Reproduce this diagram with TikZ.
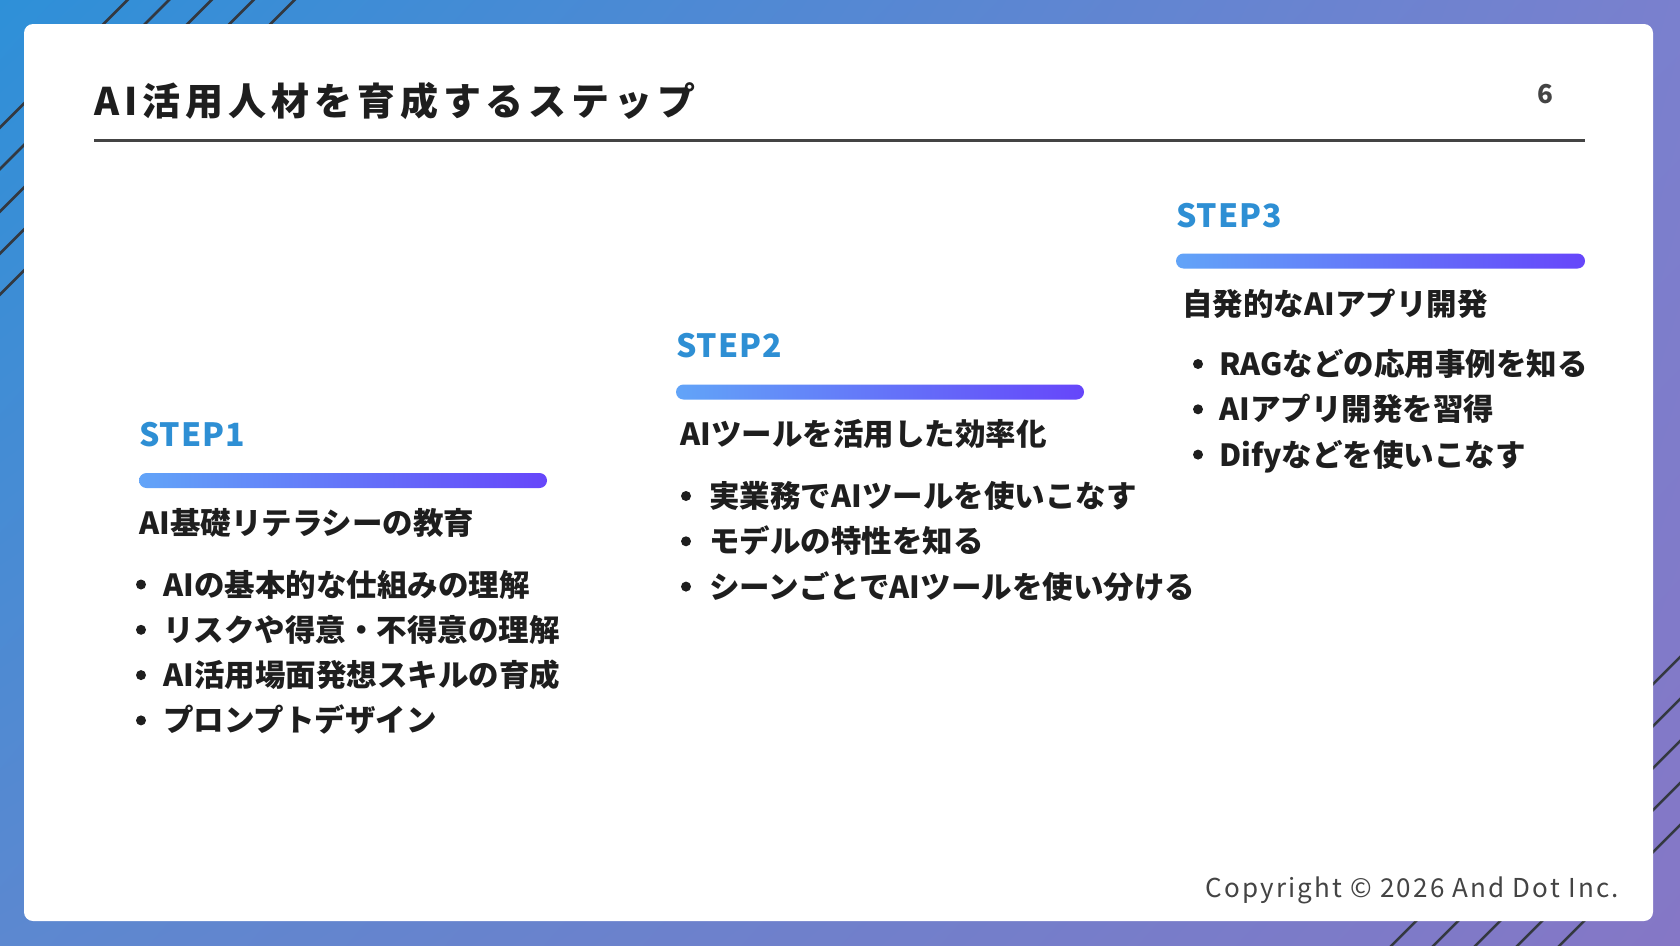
\documentclass[tikz,border=0pt]{standalone}
\usepackage{fontspec}
\usetikzlibrary{shadings}
\setmainfont{Noto Sans CJK JP}
\newfontfamily\titlefont[LetterSpace=13]{Noto Sans CJK JP}
\newfontfamily\copyfont[LetterSpace=8.5]{Noto Sans CJK JP}
\newfontfamily\stepfont[LetterSpace=3]{Noto Sans CJK JP}
\definecolor{bgUL}{HTML}{2E90D8}
\definecolor{bgUR}{HTML}{7A80CE}
\definecolor{bgLL}{HTML}{5C88D0}
\definecolor{bgLR}{HTML}{8577C6}
\definecolor{stripe}{HTML}{333840}
\definecolor{ink}{HTML}{1E1E1E}
\definecolor{rulegray}{HTML}{444444}
\definecolor{stepblue}{HTML}{2E8FD4}
\definecolor{barL}{HTML}{62A4F8}
\definecolor{barR}{HTML}{6646FA}
\definecolor{copygray}{HTML}{444444}
\begin{document}
\begin{tikzpicture}[x=1pt,y=-1pt,
  stripeline/.style={draw=stripe, line width=2.5pt},
  titletext/.style={inner sep=0, font=\titlefont\bfseries\fontsize{38}{44}\selectfont, text=ink},
  pagetext/.style={inner sep=0, font=\bfseries\fontsize{26}{30}\selectfont, text=rulegray},
  steplabel/.style={anchor=west, inner sep=0, font=\stepfont\bfseries\fontsize{32}{36}\selectfont, text=stepblue},
  headtext/.style={anchor=west, inner sep=0, text height=26.8pt, text depth=3.7pt, font=\bfseries\fontsize{30.5}{36}\selectfont, text=ink},
  itemtext/.style={anchor=west, inner sep=0, text height=26.8pt, text depth=3.7pt, font=\bfseries\fontsize{30.5}{36}\selectfont, text=ink},
  bulletdot/.style={circle, fill=ink, inner sep=0, minimum size=10pt},
  gradbar/.style={left color=barL, right color=barR, rounded corners=7.5pt},
  copytext/.style={inner sep=0, font=\copyfont\fontsize{26}{30}\selectfont, text=copygray}
]
\useasboundingbox (0,0) rectangle (1680,945);
% background
\shade[upper left=bgUL, upper right=bgUR, lower left=bgLL, lower right=bgLR] (0,0) rectangle (1680,945);
% stripes
\begin{scope}
  \clip (0,0) rectangle (1680,945);
  \foreach \c in {127.5,169,211.5,253.5,294.5}
    \draw[stripeline] (\c+10,-10) -- (-10,\c+10);
  \foreach \c in {2337,2379,2421,2463,2505}
    \draw[stripeline] (1690,\c-1690) -- (\c-955,955);
\end{scope}
% card
\fill[white, rounded corners=9pt] (24,24) rectangle (1653,921);
% title
\node[titletext, anchor=base west] (title) at (94,115) {AI活用人材を育成するステップ};
\coordinate (ruleL) at (94,140);
\coordinate (ruleR) at (1585,140);
\draw[rulegray, line width=3pt] (ruleL) -- (ruleR);
\node[pagetext] (pageno) at (1545,94) {6};
% STEP1
\node[steplabel] (s1) at (139,434.5) {STEP1};
\shade[gradbar] (139,473) rectangle (547,488);
\node[headtext] (h1) at (139,522.5) {AI基礎リテラシーの教育};
\node[bulletdot] (b11) at (141,584.5) {};
\node[itemtext] (t11) at (163,584.5) {AIの基本的な仕組みの理解};
\node[bulletdot] (b12) at (141,629.8) {};
\node[itemtext] (t12) at (163,629.8) {リスクや得意・不得意の理解};
\node[bulletdot] (b13) at (141,675.1) {};
\node[itemtext] (t13) at (163,675.1) {AI活用場面発想スキルの育成};
\node[bulletdot] (b14) at (141,720.4) {};
\node[itemtext] (t14) at (163,720.4) {プロンプトデザイン};
% STEP2
\node[steplabel] (s2) at (676,346) {STEP2};
\shade[gradbar] (676,384.5) rectangle (1084,399.5);
\node[headtext] (h2) at (680,434) {AIツールを活用した効率化};
\node[bulletdot] (b21) at (686,496) {};
\node[itemtext] (t21) at (709,496) {実業務でAIツールを使いこなす};
\node[bulletdot] (b22) at (686,541.3) {};
\node[itemtext] (t22) at (709,541.3) {モデルの特性を知る};
\node[bulletdot] (b23) at (686,586.6) {};
\node[itemtext] (t23) at (709,586.6) {シーンごとでAIツールを使い分ける};
% STEP3
\node[steplabel] (s3) at (1176,215.5) {STEP3};
\shade[gradbar] (1176,253.5) rectangle (1585,268.5);
\node[headtext] (h3) at (1182,304) {自発的なAIアプリ開発};
\node[bulletdot] (b31) at (1198,364) {};
\node[itemtext] (t31) at (1219,364) {RAGなどの応用事例を知る};
\node[bulletdot] (b32) at (1198,409.3) {};
\node[itemtext] (t32) at (1219,409.3) {AIアプリ開発を習得};
\node[bulletdot] (b33) at (1198,454.6) {};
\node[itemtext] (t33) at (1219,454.6) {Difyなどを使いこなす};
% copyright
\node[copytext, anchor=base east] (copy) at (1619,897) {Copyright © 2026 And Dot Inc.};
\end{tikzpicture}
\end{document}
